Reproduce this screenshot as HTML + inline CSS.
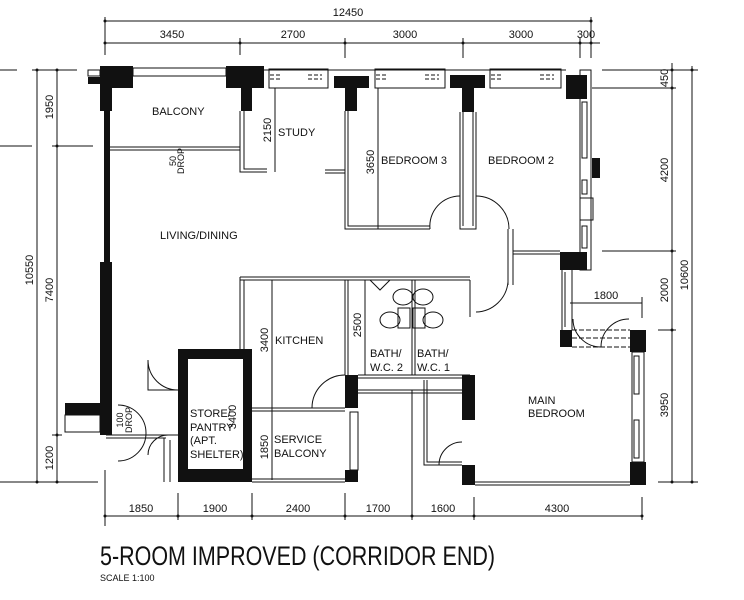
<!DOCTYPE html>
<html><head><meta charset="utf-8"><style>
html,body{margin:0;padding:0;background:#fff;width:744px;height:600px;overflow:hidden}
svg{display:block}
text{font-family:"Liberation Sans",sans-serif;fill:#111}
</style></head><body>
<svg width="744" height="600" viewBox="0 0 744 600" xmlns="http://www.w3.org/2000/svg">
<g stroke="#111" stroke-width="1" fill="none">
<!-- top dims -->
<line x1="105" y1="21" x2="592" y2="21"/>
<line x1="105" y1="43" x2="600" y2="43"/>
<line x1="105" y1="17" x2="105" y2="55"/><line x1="240" y1="38" x2="240" y2="55"/>
<line x1="345" y1="38" x2="345" y2="58"/><line x1="463" y1="38" x2="463" y2="58"/>
<line x1="580" y1="38" x2="580" y2="58"/><line x1="591" y1="17" x2="591" y2="58"/>
<!-- left dims -->
<line x1="37" y1="70" x2="37" y2="482"/><line x1="57" y1="70" x2="57" y2="482"/>
<line x1="32" y1="70" x2="77" y2="70"/><line x1="52" y1="146" x2="93" y2="146"/>
<line x1="52" y1="435" x2="62" y2="435"/><line x1="25" y1="482" x2="98" y2="482"/>
<!-- right dims -->
<line x1="672" y1="63" x2="672" y2="482"/><line x1="692" y1="66" x2="692" y2="482"/>
<line x1="602" y1="70" x2="698" y2="70"/><line x1="592" y1="88" x2="676" y2="88"/>
<line x1="602" y1="251" x2="676" y2="251"/><line x1="658" y1="330" x2="676" y2="330"/>
<line x1="658" y1="482" x2="698" y2="482"/>
<line x1="570" y1="303" x2="642" y2="303"/><line x1="642" y1="297" x2="642" y2="318"/>
<!-- bottom dims -->
<line x1="105" y1="516" x2="642" y2="516"/>
<line x1="105" y1="470" x2="105" y2="526"/><line x1="178" y1="493" x2="178" y2="520"/>
<line x1="252" y1="493" x2="252" y2="520"/><line x1="345" y1="493" x2="345" y2="520"/>
<line x1="412" y1="390" x2="412" y2="520"/><line x1="474" y1="497" x2="474" y2="520"/>
<line x1="642" y1="497" x2="642" y2="520"/>
<line x1="0" y1="70" x2="17" y2="70"/><line x1="0" y1="146" x2="32" y2="146"/>
<line x1="0" y1="482" x2="92" y2="482"/>
</g>
<g fill="#111">
<circle cx="105" cy="21" r="1.5"/><circle cx="591" cy="21" r="1.5"/>
<circle cx="105" cy="43" r="1.5"/><circle cx="240" cy="43" r="1.5"/><circle cx="345" cy="43" r="1.5"/><circle cx="463" cy="43" r="1.5"/><circle cx="580" cy="43" r="1.5"/><circle cx="591" cy="43" r="1.5"/>
<circle cx="37" cy="70" r="1.5"/><circle cx="57" cy="70" r="1.5"/><circle cx="57" cy="146" r="1.5"/><circle cx="57" cy="435" r="1.5"/><circle cx="37" cy="482" r="1.5"/><circle cx="57" cy="482" r="1.5"/>
<circle cx="672" cy="70" r="1.5"/><circle cx="692" cy="70" r="1.5"/><circle cx="672" cy="88" r="1.5"/><circle cx="672" cy="251" r="1.5"/><circle cx="672" cy="330" r="1.5"/><circle cx="672" cy="482" r="1.5"/><circle cx="692" cy="482" r="1.5"/>
<circle cx="105" cy="516" r="1.5"/><circle cx="178" cy="516" r="1.5"/><circle cx="252" cy="516" r="1.5"/><circle cx="345" cy="516" r="1.5"/><circle cx="412" cy="516" r="1.5"/><circle cx="474" cy="516" r="1.5"/><circle cx="642" cy="516" r="1.5"/>
<!-- pillars -->
<rect x="100" y="66" width="33" height="22"/><rect x="88" y="77" width="45" height="7"/><rect x="100" y="66" width="12" height="45"/>
<rect x="226" y="66" width="38" height="22"/><rect x="241" y="66" width="11" height="45"/>
<rect x="334" y="76" width="35" height="12"/><rect x="345" y="76" width="12" height="35"/>
<rect x="450" y="75" width="35" height="13"/><rect x="462" y="75" width="12" height="37"/>
<rect x="566" y="75" width="21" height="24"/>
<rect x="104" y="111" width="6" height="152"/>
<rect x="100" y="262" width="12" height="167"/>
<rect x="65" y="403" width="47" height="12"/><rect x="100" y="415" width="12" height="20"/>
<rect x="560" y="252" width="27" height="18"/>
<rect x="592" y="158" width="8" height="20"/>
<path d="M178 349h74v133h-74z M188 359v110h55v-110z" fill-rule="evenodd"/>
<rect x="345" y="375" width="13" height="33"/><rect x="345" y="470" width="13" height="12"/>
<rect x="462" y="375" width="13" height="45"/><rect x="462" y="465" width="13" height="20"/>
<rect x="560" y="330" width="12" height="17"/>
<rect x="630" y="330" width="16" height="22"/><rect x="630" y="462" width="16" height="23"/>
</g>
<g stroke="#111" stroke-width="1" fill="none">
<!-- windows top -->
<rect x="88" y="70" width="12" height="6"/><rect x="133" y="68" width="93" height="8"/>
<rect x="269" y="69" width="59" height="19"/><rect x="375" y="69" width="70" height="19"/><rect x="490" y="69" width="71" height="19"/>
<line x1="264" y1="70" x2="566" y2="70"/>
<path d="M270 75h10M308 75h14M270 79h10M308 79h14M376 75h10M425 75h14M376 79h10M425 79h14M491 75h10M540 75h14M491 79h10M540 79h14" stroke-dasharray="4 2"/>
<!-- right wall windows -->
<rect x="580" y="70" width="11" height="200"/>
<rect x="582" y="102" width="5" height="56"/><rect x="582" y="180" width="5" height="14"/><rect x="582" y="226" width="5" height="22"/>
<rect x="580" y="198" width="13" height="22"/>
<!-- balcony line -->
<path d="M110 147h130M110 150h130"/>
<!-- study -->
<path d="M240 111v61h27M244 111v58h23"/>
<path d="M325 170h20M325 173h20M345 111v118h85M348 111v115h82"/>
<line x1="275" y1="88" x2="275" y2="172"/>
<line x1="378" y1="88" x2="378" y2="229"/>
<!-- bed3/bed2 divider -->
<path d="M460 112v117h16v-117"/><path d="M463 112v114M473 112v114"/>
<path d="M430 229a30 30 0 0 1 30 -33"/><path d="M476 196a33 33 0 0 1 33 33"/>
<path d="M508 229v56M513 229v56M513 251h47M513 254h47"/>
<path d="M476 312a33 33 0 0 0 32 -30"/>
<!-- kitchen -->
<path d="M240 277h230M240 280h230M240 277v72M244 280v69"/>
<line x1="272" y1="280" x2="272" y2="480"/>
<path d="M252 408h93M252 411h93"/>
<path d="M312 408a33 33 0 0 1 33 -33"/>
<path d="M252 482h93M252 479h93"/>
<rect x="350" y="412" width="8" height="58"/>
<!-- bath -->
<path d="M345 280v95M348 280v95M412 280v95M415 280v95M470 280v37"/>
<path d="M358 375h112M358 378h112"/>
<line x1="365" y1="280" x2="365" y2="375"/>
<ellipse cx="403" cy="297" rx="10" ry="8"/><ellipse cx="423" cy="297" rx="10" ry="8"/>
<ellipse cx="390" cy="320" rx="10" ry="8"/><ellipse cx="433" cy="320" rx="10" ry="8"/>
<rect x="398" y="308" width="12" height="20"/><rect x="413" y="308" width="12" height="20"/>
<path d="M370 280l10 10l10 -10"/>
<path d="M358 390h104M358 393h104"/>
<path d="M424 380v85h38M427 380v82h35"/><path d="M439 465a23 23 0 0 1 23 -23"/>
<!-- main bedroom -->
<path d="M475 482h155M475 485h155"/>
<path d="M562 270v60M572 270v60M565 272v55"/>
<path d="M572 330h58M572 347h58M572 338h58" stroke-dasharray="5 2"/>
<path d="M601 347a28 28 0 0 1 -28 -28 M601 347a28 28 0 0 1 28 -28"/>
<rect x="632" y="352" width="12" height="110"/>
<rect x="634" y="356" width="5" height="38"/><rect x="634" y="420" width="5" height="38"/>
<!-- store door & left area -->
<path d="M178 390a30 30 0 0 1 -30 -30v30z"/>
<path d="M148 455a20 20 0 0 1 20 -20"/>
<path d="M118 405a28 28 0 0 1 0 56"/>
<path d="M106 435h72M106 438h60M164 438v44M170 440v42"/>
<rect x="65" y="415" width="35" height="17"/>
</g>
<g font-size="11">
<text x="348" y="16" text-anchor="middle">12450</text>
<text x="172" y="38" text-anchor="middle">3450</text>
<text x="293" y="38" text-anchor="middle">2700</text>
<text x="405" y="38" text-anchor="middle">3000</text>
<text x="521" y="38" text-anchor="middle">3000</text>
<text x="586" y="38" text-anchor="middle">300</text>
<text x="141" y="512" text-anchor="middle">1850</text>
<text x="215" y="512" text-anchor="middle">1900</text>
<text x="298" y="512" text-anchor="middle">2400</text>
<text x="378" y="512" text-anchor="middle">1700</text>
<text x="443" y="512" text-anchor="middle">1600</text>
<text x="557" y="512" text-anchor="middle">4300</text>
<text x="606" y="299" text-anchor="middle">1800</text>
<text transform="translate(53,107) rotate(-90)" text-anchor="middle">1950</text>
<text transform="translate(53,290) rotate(-90)" text-anchor="middle">7400</text>
<text transform="translate(53,458) rotate(-90)" text-anchor="middle">1200</text>
<text transform="translate(33,270) rotate(-90)" text-anchor="middle">10550</text>
<text transform="translate(668,78) rotate(-90)" text-anchor="middle">450</text>
<text transform="translate(668,170) rotate(-90)" text-anchor="middle">4200</text>
<text transform="translate(668,290) rotate(-90)" text-anchor="middle">2000</text>
<text transform="translate(668,405) rotate(-90)" text-anchor="middle">3950</text>
<text transform="translate(688,275) rotate(-90)" text-anchor="middle">10600</text>
<text transform="translate(271,130) rotate(-90)" text-anchor="middle">2150</text>
<text transform="translate(374,162) rotate(-90)" text-anchor="middle">3650</text>
<text transform="translate(268,340) rotate(-90)" text-anchor="middle">3400</text>
<text transform="translate(361,325) rotate(-90)" text-anchor="middle">2500</text>
<text transform="translate(236,417) rotate(-90)" text-anchor="middle">3400</text>
<text transform="translate(268,447) rotate(-90)" text-anchor="middle">1850</text>
<text transform="translate(176,161) rotate(-90)" text-anchor="middle" font-size="9">50</text>
<text transform="translate(184,161) rotate(-90)" text-anchor="middle" font-size="9">DROP</text>
<text transform="translate(123,420) rotate(-90)" text-anchor="middle" font-size="9">100</text>
<text transform="translate(132,420) rotate(-90)" text-anchor="middle" font-size="9">DROP</text>
<text x="152" y="115">BALCONY</text>
<text x="278" y="136">STUDY</text>
<text x="381" y="164">BEDROOM 3</text>
<text x="488" y="164">BEDROOM 2</text>
<text x="160" y="239">LIVING/DINING</text>
<text x="275" y="344">KITCHEN</text>
<text x="370" y="357">BATH/</text><text x="370" y="371">W.C. 2</text>
<text x="417" y="357">BATH/</text><text x="417" y="371">W.C. 1</text>
<text x="190" y="417">STORE/</text><text x="190" y="431">PANTRY</text><text x="190" y="444">(APT.</text><text x="190" y="458">SHELTER)</text>
<text x="274" y="443">SERVICE</text><text x="274" y="457">BALCONY</text>
<text x="528" y="404">MAIN</text><text x="528" y="417">BEDROOM</text>
</g>
<text x="100" y="565" font-size="27" textLength="395" lengthAdjust="spacingAndGlyphs" style="font-weight:300">5-ROOM IMPROVED (CORRIDOR END)</text>
<text x="100" y="581" font-size="9">SCALE   1:100</text>
</svg>
</body></html>
